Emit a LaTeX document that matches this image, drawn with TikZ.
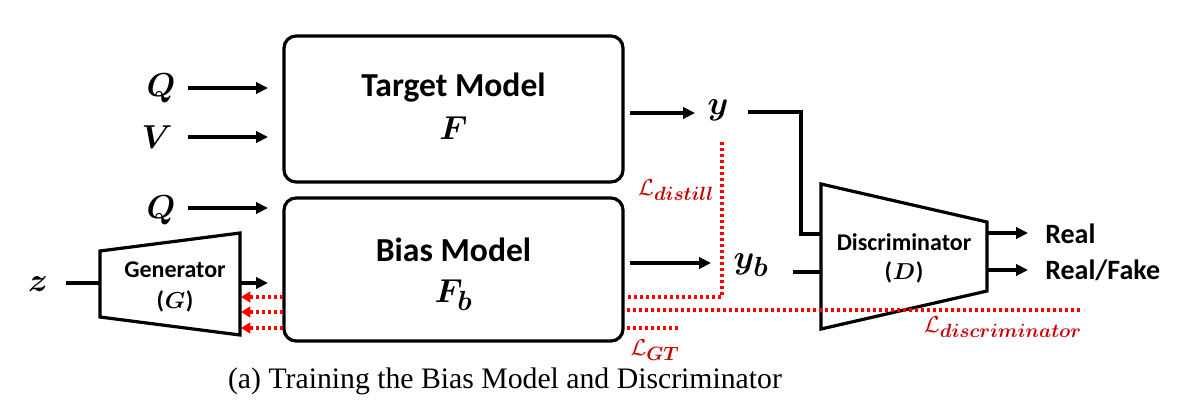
\documentclass[tikz,border=0pt]{standalone}
\usepackage{fontspec}
\usepackage{amsmath}
\usepackage{bm}
\setmainfont{Liberation Serif}
\newfontfamily\labfont{Carlito}
\usetikzlibrary{arrows.meta,calc}
\definecolor{lossred}{RGB}{200,0,0}
\definecolor{dotred}{RGB}{255,0,0}
\begin{document}
\begin{tikzpicture}[x=0.75pt,y=-0.75pt,
  modelbox/.style={draw, line width=2.4pt, rounded corners=9pt, minimum width=254.25pt, inner sep=0pt},
  arr/.style={line width=2.4pt, -{Triangle[length=9pt,width=8.5pt]}},
  wire/.style={line width=2.4pt},
  trap/.style={line width=2.4pt, line join=miter},
  loss/.style={dotred, line width=2.6pt, dash pattern=on 2.4pt off 2.1pt},
  lossarr/.style={loss, -{Triangle[length=7pt,width=8pt]}},
  bigtxt/.style={font=\labfont\bfseries\fontsize{25.2}{27}\selectfont, inner sep=0pt},
  smalltxt/.style={font=\labfont\bfseries\fontsize{18}{20}\selectfont, inner sep=0pt},
  outtxt/.style={font=\labfont\bfseries\fontsize{21}{23}\selectfont, inner sep=0pt, anchor=west},
  mathtxt/.style={font=\fontsize{27}{29}\selectfont, inner sep=0pt},
  losstxt/.style={text=lossred, font=\fontsize{19}{21}\selectfont, inner sep=0pt},
]
\useasboundingbox (0,0) rectangle (1177,418);

% model boxes
\node[modelbox, minimum height=109.5pt] (tm) at (453.5,109) {};
\node[modelbox, minimum height=107.25pt] (bm) at (453.5,269.5) {};
\node[bigtxt] (tmt) at (453.5,88) {Target Model};
\node[mathtxt, font=\fontsize{29}{31}\selectfont] (tmf) at (453.5,128) {$\bm{F}$};
\node[bigtxt] (bmt) at (453.5,250) {Bias Model};
\node[mathtxt, font=\fontsize{29}{31}\selectfont] (bmf) at (453.5,295) {$\bm{F_b}$};

% inputs
\node[mathtxt] (q1) at (161,88) {$\bm{Q}$};
\node[mathtxt] (v1) at (157,137) {$\bm{V}$};
\node[mathtxt] (q2) at (161,210) {$\bm{Q}$};
\node[mathtxt, font=\fontsize{32}{34}\selectfont] (z) at (38,284) {$\bm{z}$};

\coordinate (q1s) at (188,88);  \coordinate (q1e) at (268,88);
\coordinate (v1s) at (188,137); \coordinate (v1e) at (268,137);
\coordinate (q2s) at (188,208); \coordinate (q2e) at (268,208);
\draw[arr] (q1s) -- (q1e);
\draw[arr] (v1s) -- (v1e);
\draw[arr] (q2s) -- (q2e);

% generator
\coordinate (g1) at (100,251); \coordinate (g2) at (240,233);
\coordinate (g3) at (240,335); \coordinate (g4) at (100,317);
\draw[trap] (g1) -- (g2) -- (g3) -- (g4) -- cycle;
\node[smalltxt] (gt) at (175,270) {Generator};
\node[smalltxt] (gg) at (175,301) {(\kern0.5pt$\bm{G}$\kern0.5pt)};
\coordinate (gin) at (100,283);
\coordinate (zs) at (66,283);
\draw[wire] (zs) -- (gin);
\coordinate (gout) at (240,283); \coordinate (gend) at (268,283);
\draw[arr] (gout) -- (gend);

% outputs of models
\node[mathtxt, font=\fontsize{29}{31}\selectfont] (y) at (718,110) {$\bm{y}$};
\node[mathtxt, font=\fontsize{29}{31}\selectfont] (yb) at (751,265) {$\bm{y_b}$};
\coordinate (tmo) at (630,113); \coordinate (ye) at (695,113);
\draw[arr] (tmo) -- (ye);
\coordinate (bmo) at (630,263); \coordinate (ybe) at (711,263);
\draw[arr] (bmo) -- (ybe);

% discriminator
\coordinate (d1) at (821,184); \coordinate (d2) at (987,222);
\coordinate (d3) at (987,291); \coordinate (d4) at (821,329);
\draw[trap] (d1) -- (d2) -- (d3) -- (d4) -- cycle;
\node[smalltxt] (dt) at (904,242) {Discriminator};
\node[smalltxt] (dd) at (904,272) {(\kern0.5pt$\bm{D}$\kern0.5pt)};
\coordinate (din1) at (821,234); \coordinate (din2) at (821,272);
\coordinate (ys) at (748,112); \coordinate (yc) at (801,112);
\draw[wire] (ys) -- (yc) |- (din1);
\coordinate (ybs) at (793,272);
\draw[wire] (ybs) -- (din2);
\coordinate (do1) at (987,233); \coordinate (do1e) at (1028,233);
\coordinate (do2) at (987,270); \coordinate (do2e) at (1028,270);
\draw[arr] (do1) -- (do1e);
\draw[arr] (do2) -- (do2e);
\node[outtxt] (real) at (1045,234) {Real};
\node[outtxt] (rf) at (1045,270) {Real/Fake};

% losses
\coordinate (ld1) at (722,142); \coordinate (ld2) at (722,297); \coordinate (ld3) at (626,297);
\draw[loss] (ld1) -- (ld2) -- (ld3);
\coordinate (ldis1) at (1080,310); \coordinate (ldis2) at (626,310);
\draw[loss] (ldis1) -- (ldis2);
\coordinate (lgt1) at (678,328); \coordinate (lgt2) at (626,328);
\draw[loss] (lgt1) -- (lgt2);
\node[losstxt] (ldt) at (676,190) {$\mathcal{L}_{\bm{distill}}$};
\node[losstxt] (lgtt) at (655,350) {$\mathcal{L}_{\bm{GT}}$};
\node[losstxt] (ldist) at (1003,327) {$\mathcal{L}_{\bm{discriminator}}$};

% gradients back to generator
\coordinate (gb1s) at (283,297); \coordinate (gb1e) at (241,297);
\coordinate (gb2s) at (283,312); \coordinate (gb2e) at (241,312);
\coordinate (gb3s) at (283,328); \coordinate (gb3e) at (241,328);
\draw[lossarr] (gb1s) -- (gb1e);
\draw[lossarr] (gb2s) -- (gb2e);
\draw[lossarr] (gb3s) -- (gb3e);

% caption
\node[font=\fontsize{22.3}{24}\selectfont, inner sep=0pt] (cap) at (505,381) {(a) Training the Bias Model and Discriminator};
\end{tikzpicture}
\end{document}
